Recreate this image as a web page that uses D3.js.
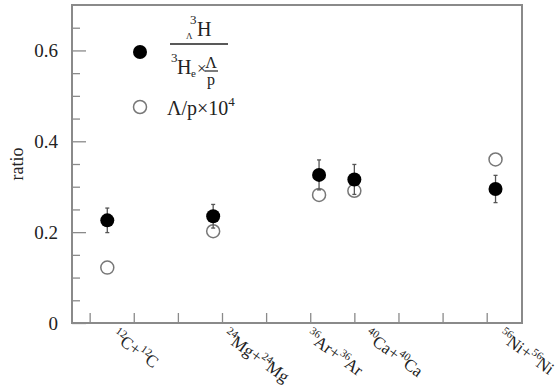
<!DOCTYPE html>
<html>
<head>
<meta charset="utf-8">
<script src="https://cdn.jsdelivr.net/npm/d3@7"></script>
<style>
  body { margin: 0; background: #fff; }
  svg text { font-family: "Liberation Serif", "Times New Roman", serif; fill: #222; }
</style>
</head>
<body>
<figure id="chart" style="margin:0"></figure>
<script>
// systems (mass number A) and their labels
const massNumbers = [12, 24, 36, 40, 56];
const labelAt = [12.4, 25.0, 34.4, 41.0, 56.2];
const labels = [
  ["12", "C+", "12", "C"],
  ["24", "Mg+", "24", "Mg"],
  ["36", "Ar+", "36", "Ar"],
  ["40", "Ca+", "40", "Ca"],
  ["56", "Ni+", "56", "Ni"]
];

// hypertriton ratio (filled) with errors, and Lambda/p x 10^4 (open)
const hyperRatio = [0.226, 0.235, 0.326, 0.316, 0.295];
const hyperErr = [0.027, 0.026, 0.033, 0.033, 0.030];
const lambdaP = [0.122, 0.202, 0.282, 0.291, 0.360];

const yMajor = [0, 0.2, 0.4, 0.6];
const yMinor = [0.05, 0.1, 0.15, 0.25, 0.3, 0.35, 0.45, 0.5, 0.55, 0.65];
const xTicks = [10, 15, 20, 25, 30, 35, 40, 45, 50, 55];

const W = 555, H = 389;
const margin = { top: 5, right: 33, bottom: 66, left: 72 };
const width = W - margin.left - margin.right;
const height = H - margin.top - margin.bottom;
const axisColor = "#8a8a8a";

const svg = d3.select("figure#chart")
  .append("svg")
  .attr("width", W)
  .attr("height", H);

const g = svg.append("g")
  .attr("transform", "translate(" + margin.left + "," + margin.top + ")");

const x = d3.scaleLinear().domain([8, 59]).range([0, width]);
const y = d3.scaleLinear().domain([0, 0.7]).range([height, 0]);

// y axis, ticks pointing inward
const yAx = g.append("g")
  .call(d3.axisLeft(y).tickValues(yMajor).tickSize(-14).tickPadding(14)
    .tickFormat(d => d === 0 ? "0" : d3.format(".1f")(d)));
yAx.selectAll("text").style("font-size", "19px");

g.append("g")
  .call(d3.axisLeft(y).tickValues(yMinor).tickSize(-8).tickFormat(""));

// x axis, ticks only
g.append("g")
  .attr("transform", "translate(0," + height + ")")
  .call(d3.axisBottom(x).tickValues(xTicks).tickSize(-10).tickFormat(""));

g.selectAll(".domain").remove();
g.selectAll(".tick line").attr("stroke", axisColor).attr("stroke-width", 1.3);

// frame
g.append("rect")
  .attr("width", width)
  .attr("height", height)
  .attr("fill", "none")
  .attr("stroke", axisColor)
  .attr("stroke-width", 2);

svg.append("text")
  .attr("transform", "translate(23," + (margin.top + y(0.35)) + ") rotate(-90)")
  .attr("text-anchor", "middle")
  .style("font-size", "18px")
  .text("ratio");

// category labels, rotated
labels.forEach((parts, i) => {
  const t = svg.append("text")
    .attr("transform", "translate(" + (margin.left + x(labelAt[i])) + "," + (margin.top + height + 15) + ") rotate(36)")
    .style("font-size", "17px");
  parts.forEach((p, k) => {
    const sup = k % 2 === 0;
    t.append("tspan")
      .attr("dy", sup ? -7 : 7)
      .attr("dx", sup ? 0 : -1)
      .style("font-size", sup ? "11px" : "17px")
      .text(p);
  });
});

// open circles
g.selectAll("circle.open")
  .data(massNumbers)
  .enter()
  .append("circle")
  .attr("class", "open")
  .attr("cx", d => x(d))
  .attr("cy", (d, i) => y(lambdaP[i]))
  .attr("r", 6.5)
  .attr("fill", "none")
  .attr("stroke", "#777")
  .attr("stroke-width", 1.5);

// error bars
const err = g.selectAll("g.err")
  .data(massNumbers)
  .enter()
  .append("g")
  .attr("class", "err");
err.append("line")
  .attr("x1", d => x(d)).attr("x2", d => x(d))
  .attr("y1", (d, i) => y(hyperRatio[i] - hyperErr[i]))
  .attr("y2", (d, i) => y(hyperRatio[i] + hyperErr[i]))
  .attr("stroke", "#555").attr("stroke-width", 1.3);
[-1, 1].forEach(s => {
  err.append("line")
    .attr("x1", d => x(d) - 2).attr("x2", d => x(d) + 2)
    .attr("y1", (d, i) => y(hyperRatio[i] + s * hyperErr[i]))
    .attr("y2", (d, i) => y(hyperRatio[i] + s * hyperErr[i]))
    .attr("stroke", "#555").attr("stroke-width", 1.3);
});

// filled circles
g.selectAll("circle.filled")
  .data(massNumbers)
  .enter()
  .append("circle")
  .attr("class", "filled")
  .attr("cx", d => x(d))
  .attr("cy", (d, i) => y(hyperRatio[i]))
  .attr("r", 7)
  .attr("fill", "#000");

// legend
const leg = svg.append("g");
leg.append("circle").attr("cx", 140).attr("cy", 52).attr("r", 7).attr("fill", "#000");
leg.append("circle").attr("cx", 140).attr("cy", 107).attr("r", 6.5)
  .attr("fill", "none").attr("stroke", "#777").attr("stroke-width", 1.5);

// numerator: 3 Lambda H
leg.append("text").attr("x", 190).attr("y", 24).style("font-size", "13px").text("3");
leg.append("text").attr("x", 186).attr("y", 39).style("font-size", "9px").text("Λ");
leg.append("text").attr("x", 197).attr("y", 36).style("font-size", "20px").text("H");
leg.append("line").attr("x1", 170).attr("x2", 228).attr("y1", 44).attr("y2", 44)
  .attr("stroke", "#222").attr("stroke-width", 1.3);
// denominator: 3He x Lambda/p
leg.append("text").attr("x", 171).attr("y", 62).style("font-size", "13px").text("3");
leg.append("text").attr("x", 177).attr("y", 74).style("font-size", "20px").text("H");
leg.append("text").attr("x", 191).attr("y", 77).style("font-size", "11px").text("e");
leg.append("text").attr("x", 197).attr("y", 74).style("font-size", "17px").text("×");
leg.append("text").attr("x", 211).attr("y", 68).attr("text-anchor", "middle").style("font-size", "16px").text("Λ");
leg.append("line").attr("x1", 205).attr("x2", 218).attr("y1", 71).attr("y2", 71)
  .attr("stroke", "#222").attr("stroke-width", 1.2);
leg.append("text").attr("x", 211).attr("y", 85).attr("text-anchor", "middle").style("font-size", "16px").text("p");

const lt = leg.append("text").attr("x", 167).attr("y", 115).style("font-size", "20px");
lt.append("tspan").text("Λ/p×10");
lt.append("tspan").attr("dy", -9).style("font-size", "13px").text("4");
</script>
</body>
</html>
